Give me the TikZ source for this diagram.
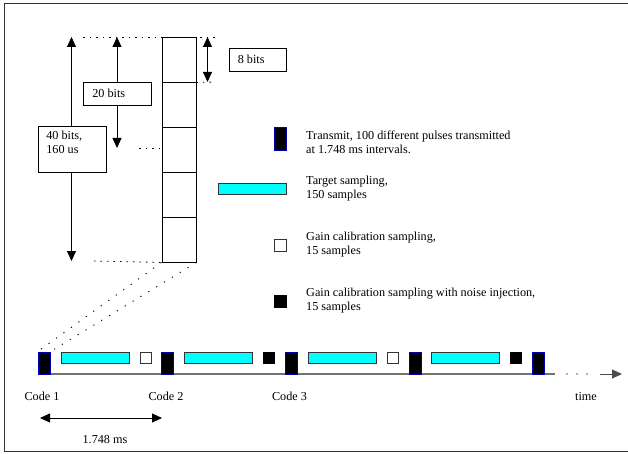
\documentclass[tikz,border=0pt]{standalone}
\usepackage{fontspec}
\setmainfont{Liberation Serif}
\usetikzlibrary{arrows.meta}
\definecolor{aqua}{RGB}{0,255,255}
\begin{document}
\begin{tikzpicture}[x=1pt,y=-1pt,
  lbl/.style={font=\fontsize{12.2}{14}\selectfont, inner sep=0pt, align=left},
  lbox/.style={draw, fill=white, line width=0.8pt, inner sep=0pt, minimum height=23pt, minimum width=#1, font=\fontsize{12.2}{14}\selectfont},
  cell/.style={draw, line width=0.9pt, minimum width=34pt, minimum height=45pt, inner sep=0pt},
  txpulse/.style={draw=blue!70!black, fill=black, line width=0.8pt, minimum width=12pt, minimum height=22pt, inner sep=0pt},
  tgt/.style={draw=black!80, fill=aqua, line width=0.8pt, minimum width=68pt, minimum height=11pt, inner sep=0pt},
  gcal/.style={draw=black!80, fill=white, line width=0.8pt, minimum width=11pt, minimum height=11pt, inner sep=0pt},
  gnoise/.style={draw=black, fill=black, line width=0.8pt, minimum width=11pt, minimum height=11pt, inner sep=0pt},
  dim/.style={line width=0.8pt, {Triangle[length=10pt,width=9pt]}-{Triangle[length=10pt,width=9pt]}},
  dots/.style={dash pattern=on 1.5pt off 5pt, line width=0.8pt},
  ddots/.style={dash pattern=on 1.2pt off 8pt, line width=0.9pt}
]
\useasboundingbox (0,0) rectangle (628,454);
\draw[line width=0.9pt, black!80] (629,3.5) -- (4.5,3.5) -- (4.5,451) -- (629,451);

% column of cells
\foreach \i/\y in {1/59.5,2/104.5,3/149.5,4/194.5,5/239.5}
  \node[cell] (c\i) at (179,\y) {};

% dimension arrows
\coordinate (t40) at (71.5,37);
\coordinate (b40) at (71.5,261);
\coordinate (t20) at (117,37);
\coordinate (b20) at (117,148);
\coordinate (t8) at (207.5,37);
\coordinate (b8) at (207.5,82);
\draw[dim] (t40) -- (b40);
\draw[dim] (t20) -- (b20);
\draw[dim] (t8) -- (b8);
\node[lbox=68pt, minimum height=46pt] (l40) at (72,149.5) {};
\node[lbl, anchor=north west] (l40t) at (l40.north west) [xshift=8.5pt,yshift=-5pt] {40 bits,\\160 us};
\node[lbox=68pt] (l20) at (117,93.5) {};
\node[lbl, anchor=west] (l20t) at (l20.west) [xshift=9.5pt] {20 bits};
\node[lbox=57pt] (l8) at (257.5,59.5) {};
\node[lbl, anchor=west] (l8t) at (l8.west) [xshift=9pt] {8 bits};

% dotted guide lines
\coordinate (g1) at (83,37);
\coordinate (g2) at (215,37);
\coordinate (g3) at (215,82);
\coordinate (g4) at (139,148);
\coordinate (g5) at (94,261);
\draw[dots] (g1) -- (g2);
\draw[dots] (c1.south east) -- (g3);
\draw[dots] (g4) -- (c3.west |- g4);
\draw[dots] (g5) -- (c5.south west);

% timeline
\coordinate (tl0) at (38,374);
\coordinate (tl1) at (555,374);
\coordinate (ta0) at (600,374);
\coordinate (ta1) at (622,374);
\draw[line width=1.3pt, black!55] (tl0) -- (tl1);
\foreach \x in {567,577,587} \fill[black!60] (\x,374) circle (0.8pt);
\draw[line width=1pt, black!70, -{Triangle[length=10pt,width=9pt]}] (ta0) -- (ta1);

% pulses
\foreach \i/\x in {1/44,2/167.5,3/291,4/415,5/538.5}
  \node[txpulse] (p\i) at (\x,363) {};
\foreach \i/\x in {1/95,2/218,3/342,4/465}
  \node[tgt] (s\i) at (\x,357.5) {};
\node[gcal] (w1) at (145.5,357.5) {};
\node[gnoise] (k1) at (269,357.5) {};
\node[gcal] (w2) at (392.5,357.5) {};
\node[gnoise] (k2) at (515.5,357.5) {};

% zoom lines
\draw[ddots] (c5.south west) -- (p1.north west);
\draw[ddots] (c5.south east) -- (p1.north east);

% labels
\node[lbl] (code1) at (42,396) {Code 1};
\node[lbl] (code2) at (166,396) {Code 2};
\node[lbl] (code3) at (289.5,396) {Code 3};
\node[lbl] (time) at (586,397) {time};
\coordinate (m0) at (40,418);
\coordinate (m1) at (162,418);
\draw[dim] (m0) -- (m1);
\node[lbl] (ms) at (105,440) {1.748 ms};

% legend
\node[txpulse, minimum height=23pt] (lg1) at (280,138.5) {};
\node[lbl, anchor=north west] (lt1) at (306,131) {Transmit, 100 different pulses transmitted\\at 1.748 ms intervals.};
\node[tgt] (lg2) at (252,188.5) {};
\node[lbl, anchor=north west] (lt2) at (306,176) {Target sampling,\\150 samples};
\node[gcal, minimum width=12pt, minimum height=12pt] (lg3) at (280,245) {};
\node[lbl, anchor=north west] (lt3) at (306,232) {Gain calibration sampling,\\15 samples};
\node[gnoise, minimum width=12pt, minimum height=12pt] (lg4) at (280,301) {};
\node[lbl, anchor=north west] (lt4) at (306,287.5) {Gain calibration sampling with noise injection,\\15 samples};
\end{tikzpicture}
\end{document}
